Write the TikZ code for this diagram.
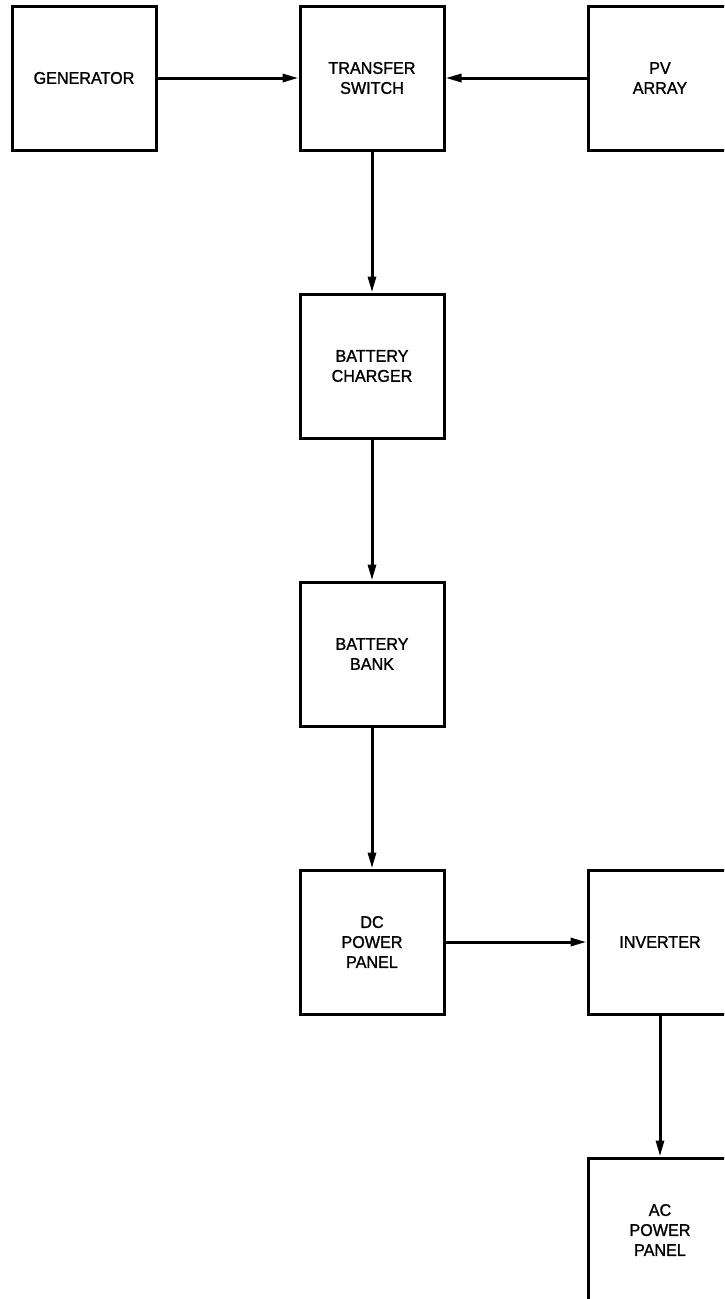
\documentclass[tikz,border=0pt]{standalone}
\usepackage{fontspec}
\setmainfont{Liberation Sans}[FakeStretch=0.95,FakeBold=1.2]
\usetikzlibrary{arrows.meta}
\begin{document}
\begin{tikzpicture}[x=1pt,y=-1pt,
  blk/.style={draw,line width=3pt,minimum width=144pt,minimum height=144pt,inner sep=0pt,
    align=center,font=\fontsize{17}{20}\selectfont},
  con/.style={line width=3pt,-{Triangle[length=16pt,width=8pt]}}]
\useasboundingbox (0,0) rectangle (724,1299);
\clip (0,0) rectangle (724,1299);
\node[blk] (gen) at (84,78) {GENERATOR};
\node[blk] (ts) at (372,78) {TRANSFER\\SWITCH};
\node[blk] (pv) at (660,78) {PV\\ARRAY};
\node[blk] (bc) at (372,366) {BATTERY\\CHARGER};
\node[blk] (bb) at (372,654) {BATTERY\\BANK};
\node[blk] (dc) at (372,942) {DC\\POWER\\PANEL};
\node[blk] (inv) at (660,942) {INVERTER};
\node[blk] (ac) at (660,1230) {AC\\POWER\\PANEL};
\draw[con] (gen.east) -- (ts.west);
\draw[con] (pv.west) -- (ts.east);
\draw[con] (ts.south) -- (bc.north);
\draw[con] (bc.south) -- (bb.north);
\draw[con] (bb.south) -- (dc.north);
\draw[con] (dc.east) -- (inv.west);
\draw[con] (inv.south) -- (ac.north);
\end{tikzpicture}
\end{document}
